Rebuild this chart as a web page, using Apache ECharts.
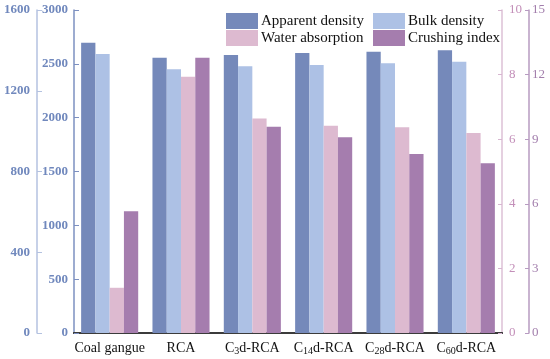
<!DOCTYPE html>
<html>
<head>
<meta charset="utf-8">
<script src="https://cdn.jsdelivr.net/npm/echarts@6/dist/echarts.min.js"></script>
<style>html,body{margin:0;padding:0;background:#fff}#c{width:550px;height:359px}</style>
</head>
<body>
<div id="c"></div>
<script>
var categories = ['{a|Coal gangue}', '{a|RCA}', '{a|C}{s|3}{a|d-RCA}', '{a|C}{s|14}{a|d-RCA}', '{a|C}{s|28}{a|d-RCA}', '{a|C}{s|60}{a|d-RCA}'];
var apparentDensity = [2696, 2557, 2582, 2601, 2613, 2626];
var bulkDensity = [2591, 2449, 2477, 2489, 2505, 2520];
var waterAbsorption = [1.40, 7.93, 6.64, 6.42, 6.37, 6.19];
var crushingIndex = [5.65, 12.78, 9.58, 9.09, 8.31, 7.88];
var seriesNames = ['Apparent density', 'Bulk density', 'Water absorption', 'Crushing index'];

var serif = 'Liberation Serif, Times New Roman, serif';
var plain = function (v) { return String(v); };
var chart = echarts.init(document.getElementById('c'), null, {renderer: 'canvas'});
var option = {
  animation: false,
  backgroundColor: '#fff',
  grid: {left: 74, right: 48, top: 10, bottom: 26},
  legend: [
    {data: [seriesNames[0], seriesNames[2]], orient: 'vertical', left: 226, top: 13, itemWidth: 32, itemHeight: 16, itemGap: 1, icon: 'rect', padding: 0,
     textStyle: {fontFamily: serif, fontSize: 15, color: '#111', padding: [0, 0, 0, -2]}},
    {data: [seriesNames[1], seriesNames[3]], orient: 'vertical', left: 373, top: 13, itemWidth: 32, itemHeight: 16, itemGap: 1, icon: 'rect', padding: 0,
     textStyle: {fontFamily: serif, fontSize: 15, color: '#111', padding: [0, 0, 0, -2]}}
  ],
  xAxis: [
    {type: 'category', data: categories, axisLine: {lineStyle: {color: '#222', width: 2}}, axisTick: {show: false},
     axisLabel: {margin: 7, color: '#111', interval: 0,
       rich: {a: {fontFamily: serif, fontSize: 14, lineHeight: 16, color: '#111'}, s: {fontFamily: serif, fontSize: 10, lineHeight: 10, color: '#111', verticalAlign: 'bottom'}}}},
    {type: 'category', data: categories, position: 'top', axisLine: {lineStyle: {color: '#444', width: 1.5}}, axisTick: {show: false}, axisLabel: {show: false}}
  ],
  yAxis: [
    {type: 'value', min: 0, max: 3000, interval: 500, position: 'left', splitLine: {show: false},
     axisLine: {show: true, lineStyle: {color: '#7d90c0', width: 1.5}}, axisTick: {show: true, inside: true, length: 5, lineStyle: {color: '#7d90c0'}},
     axisLabel: {margin: 6, color: '#7088bd', fontFamily: serif, fontSize: 13, fontWeight: 'bold', formatter: plain}},
    {type: 'value', min: 0, max: 1600, interval: 400, position: 'left', offset: 37, splitLine: {show: false},
     axisLine: {show: true, lineStyle: {color: '#b4c2e0', width: 1.5}}, axisTick: {show: true, inside: true, length: 5, lineStyle: {color: '#b4c2e0'}},
     axisLabel: {margin: 7, color: '#7088bd', fontFamily: serif, fontSize: 13, fontWeight: 'bold', formatter: plain}},
    {type: 'value', min: 0, max: 10, interval: 2, position: 'right', splitLine: {show: false},
     axisLine: {show: true, lineStyle: {color: '#dcc0d6', width: 1.5}}, axisTick: {show: true, inside: true, length: 4, lineStyle: {color: '#d7b6d0'}},
     axisLabel: {margin: 7, color: '#c38fb9', fontFamily: serif, fontSize: 13, formatter: plain}},
    {type: 'value', min: 0, max: 15, interval: 3, position: 'right', offset: 27, splitLine: {show: false},
     axisLine: {show: true, lineStyle: {color: '#b79bc1', width: 1.5}}, axisTick: {show: true, inside: true, length: 4, lineStyle: {color: '#b79bc1'}},
     axisLabel: {margin: 3, color: '#a27eac', fontFamily: serif, fontSize: 13, formatter: plain}}
  ],
  series: [
    {name: seriesNames[0], type: 'bar', yAxisIndex: 0, data: apparentDensity, barGap: '0%', barCategoryGap: '20%', itemStyle: {color: '#7589ba'}},
    {name: seriesNames[1], type: 'bar', yAxisIndex: 0, data: bulkDensity, barGap: '0%', barCategoryGap: '20%', itemStyle: {color: '#adc1e5'}},
    {name: seriesNames[2], type: 'bar', yAxisIndex: 2, data: waterAbsorption, barGap: '0%', barCategoryGap: '20%', itemStyle: {color: '#ddbad0'}},
    {name: seriesNames[3], type: 'bar', yAxisIndex: 3, data: crushingIndex, barGap: '0%', barCategoryGap: '20%', itemStyle: {color: '#a57dae'}}
  ]
};
chart.setOption(option);
</script>
</body>
</html>
